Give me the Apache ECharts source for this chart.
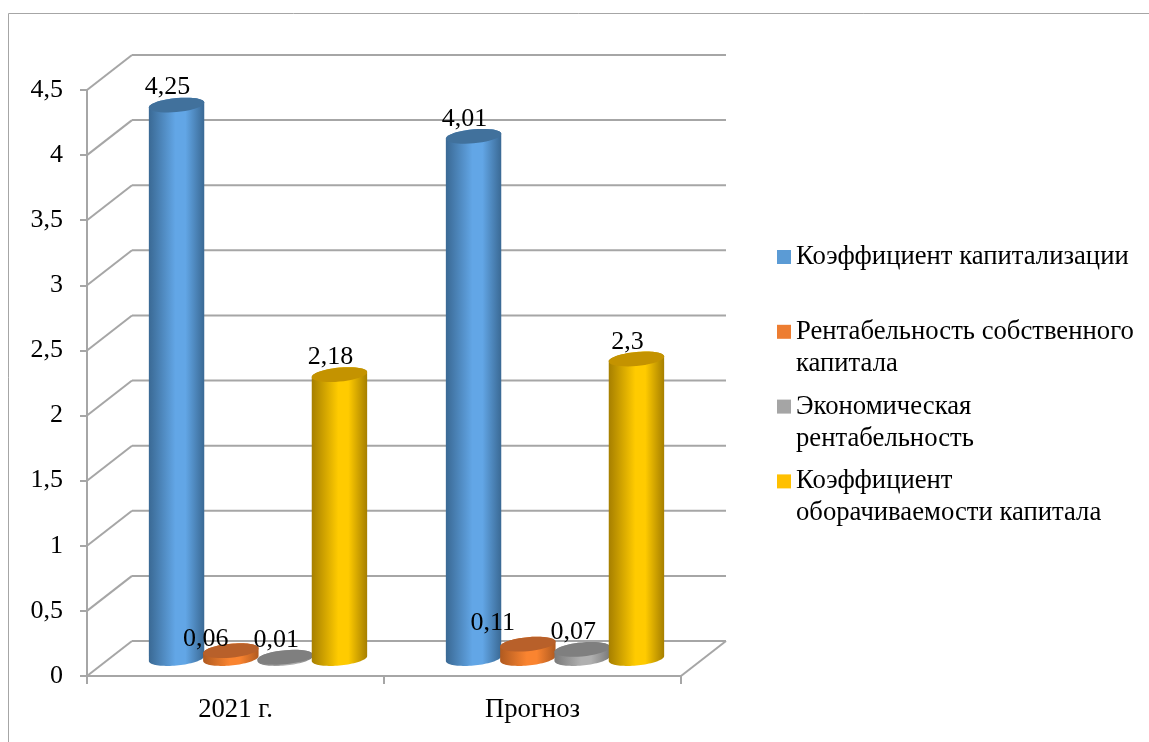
<!DOCTYPE html>
<html><head><meta charset="utf-8">
<style>html,body{margin:0;padding:0;background:#fff}#c{width:1149px;height:742px}</style>
<script src="https://cdn.jsdelivr.net/npm/echarts@6/dist/echarts.min.js"></script>
</head><body><div id="c"></div>
<script>
const categories = ['2021 г.', 'Прогноз'];
const capitalizationRatio = [4.25, 4.01];
const returnOnEquity = [0.06, 0.11];
const economicReturn = [0.01, 0.07];
const capitalTurnover = [2.18, 2.3];
const seriesNames = ['Коэффициент капитализации', 'Рентабельность собственного капитала', 'Экономическая рентабельность', 'Коэффициент оборачиваемости капитала'];
const legendLines = [['Коэффициент капитализации', ' '], ['Рентабельность собственного', 'капитала'], ['Экономическая', 'рентабельность'], ['Коэффициент', 'оборачиваемости капитала']];
const yTicks = [0, 0.5, 1, 1.5, 2, 2.5, 3, 3.5, 4, 4.5];

const FONT = '"Liberation Serif","Times New Roman",serif';
const GRID = '#a6a6a6';
const DEPTH_X = 45, DEPTH_Y = 35;      // wall offset
const MID_X = 22.5, MID_Y = 17.5;      // bars stand mid-depth
const STEP = 54.3, RX = 27.7, RY = 7, SHEAR = 0.09;
const palette = [
  {legend:'#5b9bd5', top:'#41719c', edge:'#3a6994', mid:'#62a6e6'},
  {legend:'#ed7d31', top:'#b8602a', edge:'#b05a20', mid:'#fa8430'},
  {legend:'#a5a5a5', top:'#7f7f7f', edge:'#7a7a7a', mid:'#b0b0b0'},
  {legend:'#ffc000', top:'#c49300', edge:'#a67f00', mid:'#ffcb00'}
];
const labelNudge = {'0,0.06':[-16,5], '1,0.11':[-26,-4], '0,4.25':[0,-1]};

function ring(cx, cy, from, to) {
  const pts = [];
  for (let i = 0; i <= 40; i++) {
    const t = from + (to - from) * i / 40;
    pts.push([cx + RX * Math.cos(t), cy + RY * Math.sin(t) - SHEAR * RX * Math.cos(t)]);
  }
  return pts;
}
function cylinder(sIdx) {
  return function (params, api) {
    const c = palette[sIdx];
    const cat = api.value(0), val = api.value(1);
    const base = api.coord([cat, 0]), head = api.coord([cat, val]);
    const cx = base[0] + MID_X + (sIdx - 1.5) * STEP;
    const by = base[1] - MID_Y, ty = head[1] - MID_Y;
    const nudge = labelNudge[cat + ',' + val] || [0, 0];
    const body = ring(cx, by, 0, Math.PI).concat(ring(cx, ty, Math.PI, 2 * Math.PI));
    return {type:'group', children:[
      {type:'polygon', shape:{points:body}, style:{fill:{type:'linear',x:0,y:0,x2:1,y2:0,colorStops:[
        {offset:0,color:c.edge},{offset:0.48,color:c.mid},{offset:0.66,color:c.mid},{offset:1,color:c.edge}]}}},
      {type:'polygon', shape:{points:ring(cx, ty, 0, 2 * Math.PI)}, style:{fill:c.top}},
      {type:'text', x:cx - 9 + nudge[0], y:ty - 17 + nudge[1], z2:100,
        style:{text:String(val).replace('.', ','), fill:'#000', fontSize:26, fontFamily:FONT, align:'center', verticalAlign:'middle'}}
    ]};
  };
}
function frame(params, api) {
  const tick = api.value(1), p = api.coord([0, tick]);
  const s = params.coordSys;
  const x0 = s.x, x1 = s.x + s.width, y = p[1];
  const st = {stroke:GRID, lineWidth:2, fill:null};
  const kids = [
    {type:'line', shape:{x1:x0, y1:y, x2:x0 + DEPTH_X, y2:y - DEPTH_Y}, style:st},
    {type:'line', shape:{x1:x0 + DEPTH_X, y1:y - DEPTH_Y, x2:x1 + DEPTH_X, y2:y - DEPTH_Y}, style:st}
  ];
  if (tick === 0) kids.push({type:'line', shape:{x1:x1, y1:y, x2:x1 + DEPTH_X, y2:y - DEPTH_Y}, style:st});
  return {type:'group', children:kids};
}
const values = [capitalizationRatio, returnOnEquity, economicReturn, capitalTurnover];
const chart = echarts.init(document.getElementById('c'), null, {renderer:'canvas'});
chart.setOption({
  animation:false,
  backgroundColor:'#fff',
  grid:{left:87, top:90, width:594, height:586},
  graphic:[{type:'polyline', silent:true, z:-1, shape:{points:[[8.5,742],[8.5,13.5],[1149,13.5]]}, style:{stroke:'#a6a6a6', lineWidth:1, fill:null}}],
  legend:{
    left:777, top:209, padding:0, orient:'vertical', itemGap:-21.2, itemWidth:14, itemHeight:14, icon:'rect', selectedMode:false,
    data:seriesNames,
    formatter:n => '\n' + legendLines[seriesNames.indexOf(n)].join('\n'),
    textStyle:{fontFamily:FONT, fontSize:26.7, color:'#000', lineHeight:32}
  },
  xAxis:{type:'category', data:categories, boundaryGap:true,
    axisLine:{show:true, lineStyle:{color:GRID, width:2}},
    axisTick:{show:true, length:8, lineStyle:{color:GRID, width:2}},
    axisLabel:{fontFamily:FONT, fontSize:26.7, color:'#000', margin:20}},
  yAxis:{type:'value', min:0, max:4.5, interval:0.5,
    axisLine:{show:true, lineStyle:{color:GRID, width:2}},
    axisTick:{show:true, length:7, lineStyle:{color:GRID, width:2}},
    splitLine:{show:false},
    axisLabel:{fontFamily:FONT, fontSize:26, color:'#000', margin:24, padding:[2,0,0,0], formatter:v => String(v).replace('.', ',')}},
  series:[
    {type:'custom', name:'frame', silent:true, z:1, renderItem:frame, encode:{x:0,y:1}, data:yTicks.map(t => [0, t])}
  ].concat(seriesNames.map((name, i) => ({
    type:'custom', name, z:2 + i, renderItem:cylinder(i), encode:{x:0,y:1},
    itemStyle:{color:palette[i].legend},
    data:values[i].map((v, k) => [k, v])
  })))
});
</script></body></html>
